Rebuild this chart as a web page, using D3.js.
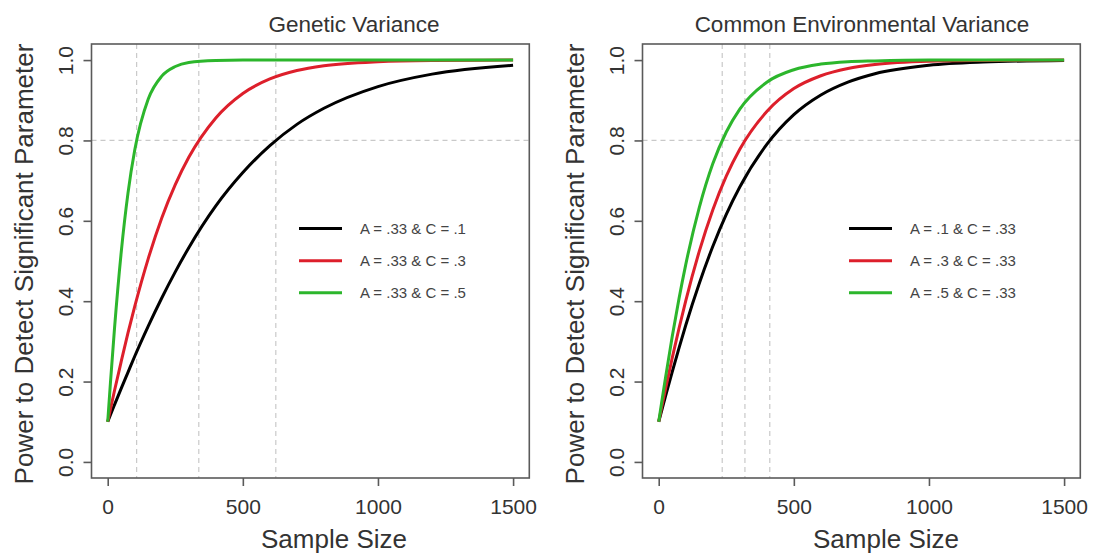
<!DOCTYPE html>
<html>
<head>
<meta charset="utf-8">
<script src="https://cdn.jsdelivr.net/npm/d3@7"></script>
<style>
  html, body { margin: 0; padding: 0; background: #fff; }
  svg { display: block; font-family: "Liberation Sans", Arial, Helvetica, sans-serif; }
</style>
</head>
<body>
<svg id="chart" width="1099" height="554"></svg>
<script>
// ---------------- data ----------------
const sampleSizes = [0, 10, 25, 50, 75, 100, 150, 200, 250, 300, 400, 500, 600, 700, 800, 1000, 1200, 1500];

// Genetic variance panel (A = .33, C varies)
const geneticC01 = [0.100, 0.117, 0.142, 0.183, 0.223, 0.263, 0.338, 0.408, 0.473, 0.533, 0.637, 0.720, 0.787, 0.840, 0.880, 0.934, 0.965, 0.987];
const geneticC03 = [0.100, 0.131, 0.177, 0.250, 0.321, 0.387, 0.506, 0.607, 0.690, 0.758, 0.856, 0.917, 0.953, 0.974, 0.986, 0.996, 0.999, 1.000];
const geneticC05 = [0.100, 0.196, 0.331, 0.522, 0.669, 0.776, 0.903, 0.960, 0.984, 0.994, 0.999, 1.000, 1.000, 1.000, 1.000, 1.000, 1.000, 1.000];

// Common environmental variance panel (C = .33, A varies)
const envA01 = [0.100, 0.125, 0.163, 0.224, 0.283, 0.340, 0.444, 0.536, 0.616, 0.684, 0.790, 0.864, 0.913, 0.945, 0.966, 0.987, 0.995, 0.999];
const envA03 = [0.100, 0.133, 0.181, 0.259, 0.332, 0.401, 0.524, 0.627, 0.711, 0.778, 0.872, 0.929, 0.961, 0.979, 0.989, 0.997, 0.999, 1.000];
const envA05 = [0.100, 0.144, 0.209, 0.312, 0.406, 0.491, 0.633, 0.742, 0.821, 0.878, 0.945, 0.976, 0.990, 0.996, 0.998, 1.000, 1.000, 1.000];

const geneticLabels = ["A = .33 & C = .1", "A = .33 & C = .3", "A = .33 & C = .5"];
const envLabels = ["A = .1 & C = .33", "A = .3 & C = .33", "A = .5 & C = .33"];

const geneticCutoffs = [107, 337, 622];
const envCutoffs = [235, 319, 411];
const powerThreshold = 0.8;

const xTicks = [0, 500, 1000, 1500];
const yTicks = [0.0, 0.2, 0.4, 0.6, 0.8, 1.0];

const titles = ["Genetic Variance", "Common Environmental Variance"];
const xLabel = "Sample Size";
const yLabel = "Power to Detect Significant Parameter";

const seriesColors = ["#000000", "#dd1f2b", "#2cb62c"];

// ---------------- layout ----------------
const svg = d3.select("#chart");
const panels = [
  { off: 0,   title: titles[0], titleX: 354, xLabX: 334, series: [geneticC01, geneticC03, geneticC05], labels: geneticLabels, cutoffs: geneticCutoffs, legX: 299 },
  { off: 551, title: titles[1], titleX: 862, xLabX: 886, series: [envA01, envA03, envA05], labels: envLabels, cutoffs: envCutoffs, legX: 849 - 551 }
];

const boxL = 91.5, boxR = 529.3, boxT = 44, boxB = 478;

panels.forEach(p => {
  const g = svg.append("g").attr("transform", `translate(${p.off},0)`);
  const x = d3.scaleLinear().domain([-60, 1560]).range([boxL, boxR]);
  const y = d3.scaleLinear().domain([-0.04, 1.04]).range([boxB, boxT]);

  // dashed reference lines
  g.selectAll("line.vref").data(p.cutoffs).enter().append("line")
    .attr("x1", d => x(d)).attr("x2", d => x(d))
    .attr("y1", boxT).attr("y2", boxB)
    .attr("stroke", "#c9c9c9").attr("stroke-width", 1.2).attr("stroke-dasharray", "5,4");
  g.append("line")
    .attr("x1", boxL).attr("x2", boxR)
    .attr("y1", y(powerThreshold)).attr("y2", y(powerThreshold))
    .attr("stroke", "#c9c9c9").attr("stroke-width", 1.2).attr("stroke-dasharray", "5,4");

  // curves
  const line = d3.line()
    .x((d, i) => x(sampleSizes[i]))
    .y(d => y(d))
    .curve(d3.curveMonotoneX);
  p.series.forEach((s, i) => {
    g.append("path").datum(s)
      .attr("d", line)
      .attr("fill", "none")
      .attr("stroke", seriesColors[i])
      .attr("stroke-width", 3)
      .attr("stroke-linejoin", "round");
  });

  // box
  g.append("rect")
    .attr("x", boxL).attr("y", boxT)
    .attr("width", boxR - boxL).attr("height", boxB - boxT)
    .attr("fill", "none").attr("stroke", "#5a5a5a").attr("stroke-width", 1.6);

  // x axis
  const xAxis = g.append("g").attr("transform", `translate(0,${boxB})`)
    .call(d3.axisBottom(x).tickValues(xTicks).tickSize(8).tickPadding(13).tickFormat(d3.format("d")));
  xAxis.select(".domain").remove();
  xAxis.selectAll(".tick line").attr("stroke", "#5a5a5a").attr("stroke-width", 1.6);
  xAxis.selectAll(".tick text").attr("font-size", 21).attr("fill", "#333")
    .attr("font-family", "Liberation Sans, Arial, sans-serif");

  // y axis
  const yAxis = g.append("g").attr("transform", `translate(${boxL},0)`)
    .call(d3.axisLeft(y).tickValues(yTicks).tickSize(8).tickFormat(d3.format(".1f")));
  yAxis.select(".domain").remove();
  yAxis.selectAll(".tick line").attr("stroke", "#5a5a5a").attr("stroke-width", 1.6);
  yAxis.selectAll(".tick text")
    .attr("transform", "rotate(-90)")
    .attr("x", 0).attr("y", -19).attr("dy", 0)
    .attr("text-anchor", "middle")
    .attr("font-size", 21).attr("fill", "#333")
    .attr("font-family", "Liberation Sans, Arial, sans-serif");

  // title
  g.append("text")
    .attr("x", p.titleX - p.off).attr("y", 32)
    .attr("text-anchor", "middle")
    .attr("font-size", 22.5).attr("fill", "#333")
    .text(p.title);

  // x label
  g.append("text")
    .attr("x", p.xLabX - p.off).attr("y", 548)
    .attr("text-anchor", "middle")
    .attr("font-size", 26).attr("fill", "#333")
    .text(xLabel);

  // y label
  g.append("text")
    .attr("transform", `translate(33,264) rotate(-90)`)
    .attr("text-anchor", "middle")
    .attr("font-size", 26).attr("fill", "#333")
    .text(yLabel);

  // legend
  const legYs = [228.5, 260.8, 292.8];
  p.labels.forEach((lab, i) => {
    g.append("line")
      .attr("x1", p.legX).attr("x2", p.legX + 43)
      .attr("y1", legYs[i]).attr("y2", legYs[i])
      .attr("stroke", seriesColors[i]).attr("stroke-width", 3);
    g.append("text")
      .attr("x", p.legX + 61).attr("y", legYs[i] + 5.3)
      .attr("font-size", 15).attr("fill", "#444")
      .text(lab);
  });
});
</script>
</body>
</html>
